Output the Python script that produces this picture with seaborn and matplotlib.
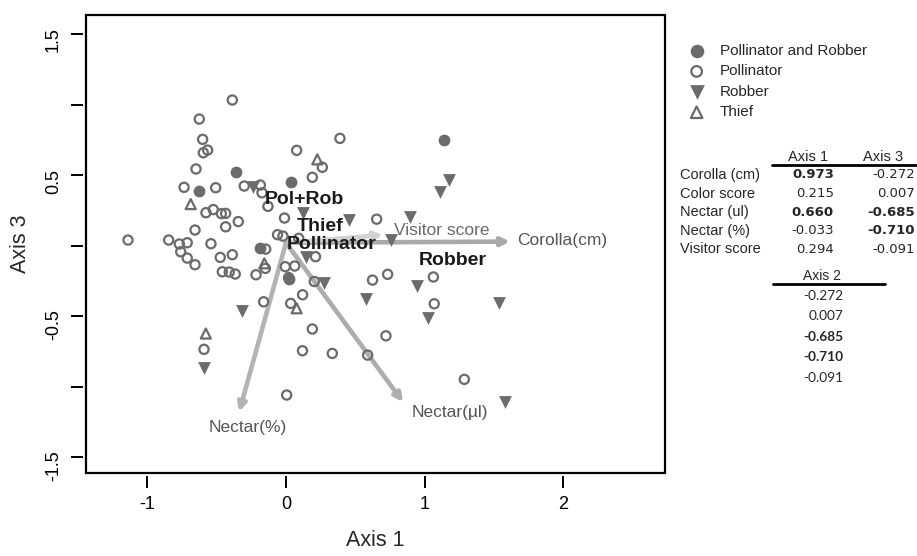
import numpy as np
import pandas as pd
import matplotlib
matplotlib.use("Agg")
import matplotlib.pyplot as plt
from matplotlib.patches import Rectangle
from matplotlib.lines import Line2D
import seaborn as sns

# ---------------- data ----------------
polrob_x = [-0.360, -0.625, 0.034, 1.141, -0.187, 0.020]
polrob_y = [0.523, 0.387, 0.450, 0.748, -0.018, -0.240]

thief_x = [0.226, -0.687, -0.156, 0.077, -0.578]
thief_y = [0.611, 0.294, -0.126, -0.445, -0.624]

robber_x = [-0.240, 0.125, 0.456, 0.894, 1.175, 1.110, 0.759, 0.146, 0.274, 0.948,
            0.580, 1.538, 1.026, -0.319, -0.589, 1.579]
robber_y = [0.413, 0.228, 0.181, 0.204, 0.465, 0.382, 0.041, -0.079, -0.266, -0.286,
            -0.381, -0.410, -0.511, -0.465, -0.871, -1.108]

poll_x = [-0.387, -0.625, -0.601, -0.565, -0.596, 0.077, 0.389, 0.262, 0.190, -0.649,
          -0.735, -0.507, -0.301, -0.185, -0.173, -0.130, -0.577, -0.524, -0.466, -0.435,
          -0.435, -0.344, -0.011, 0.654, -0.656, -1.139, -0.846, -0.769, -0.712, -0.759,
          -0.712, -0.656, -0.541, -0.474, -0.387, -0.459, -0.409, -0.366, -0.216, -0.146,
          -0.149, -0.061, -0.022, 0.092, -0.005, 0.063, 0.019, 0.213, 0.204, 0.624,
          0.733, 1.063, 1.069, 0.120, -0.161, 0.034, 0.190, 0.721, 0.119, 0.334,
          0.589, 1.286, 0.005, -0.591]
poll_y = [1.032, 0.897, 0.753, 0.677, 0.658, 0.675, 0.760, 0.555, 0.484, 0.543,
          0.413, 0.410, 0.422, 0.429, 0.374, 0.278, 0.233, 0.255, 0.226, 0.228,
          0.133, 0.170, 0.195, 0.187, 0.110, 0.039, 0.039, 0.011, 0.020, -0.044,
          -0.089, -0.136, 0.013, -0.084, -0.065, -0.186, -0.188, -0.202, -0.207, -0.025,
          -0.162, 0.077, 0.067, 0.051, -0.150, -0.145, -0.227, -0.079, -0.255, -0.245,
          -0.204, -0.223, -0.413, -0.349, -0.399, -0.410, -0.592, -0.640, -0.746, -0.765,
          -0.777, -0.949, -1.060, -0.736]

arrow_names = ["Corolla(cm)", "Visitor score", "Nectar(\u00b5l)", "Nectar(%)"]
arrow_x = [1.615, 0.699, 0.844, -0.337]
arrow_y = [0.028, 0.074, -1.110, -1.179]
arrow_label_x = [1.99, 1.125, 1.182, -0.274]
arrow_label_y = [0.034, 0.110, -1.182, -1.287]

group_names = ["Pol+Rob", "Thief", "Pollinator", "Robber"]
group_x = [0.135, 0.248, 0.332, 1.200]
group_y = [0.328, 0.133, 0.009, -0.108]

table_rows = ["Corolla (cm)", "Color score", "Nectar (ul)", "Nectar (%)", "Visitor score"]
axis1_vals = ["0.973", "0.215", "0.660", "-0.033", "0.294"]
axis1_bold = [True, False, True, False, False]
axis3_vals = ["-0.272", "0.007", "-0.685", "-0.710", "-0.091"]
axis3_bold = [False, False, True, True, False]
axis2_vals = ["-0.272", "0.007", "-0.685", "-0.710", "-0.091"]
axis2_bold = [False, False, True, True, False]

x_ticks = [-1, 0, 1, 2]
y_ticks = [-1.5, -1.0, -0.5, 0.0, 0.5, 1.0, 1.5]
y_ticklabels = ["-1.5", "", "-0.5", "", "0.5", "", "1.5"]

# ---------------- style ----------------
sns.set_style("white")
plt.rcParams["font.family"] = ["Liberation Sans", "DejaVu Sans"]

W, H = 917, 556
fig = plt.figure(figsize=(W / 100, H / 100), dpi=100)
ax = fig.add_axes([86 / W, (H - 473) / H, (665 - 86) / W, (473 - 15) / H])

gray = "#6b6b6b"

df_pr = pd.DataFrame({"x": polrob_x, "y": polrob_y})
df_po = pd.DataFrame({"x": poll_x, "y": poll_y})
df_ro = pd.DataFrame({"x": robber_x, "y": robber_y})
df_th = pd.DataFrame({"x": thief_x, "y": thief_y})

# arrows first (under points)
ox, oy = 0.0, 0.02
arrow_cols = ["#a9a9a9", "#d2d2d2", "#adadad", "#b3b3b3"]
for ax_, ay_, c in zip(arrow_x, arrow_y, arrow_cols):
    ax.annotate("", xy=(ax_, ay_), xytext=(ox, oy),
                arrowprops=dict(arrowstyle="-|>", lw=3.3, color=c,
                                mutation_scale=12, shrinkA=0, shrinkB=0),
                zorder=1)

sns.scatterplot(data=df_pr, x="x", y="y", marker="o", s=72, color=gray,
                edgecolor=gray, linewidth=0, ax=ax, label="Pollinator and Robber", zorder=3)
sns.scatterplot(data=df_po, x="x", y="y", marker="o", s=44, color=gray,
                facecolor="none", edgecolor=gray, linewidth=1.6, ax=ax,
                label="Pollinator", zorder=3)
sns.scatterplot(data=df_ro, x="x", y="y", marker="v", s=85, color=gray,
                edgecolor=gray, linewidth=0, ax=ax, label="Robber", zorder=3)
sns.scatterplot(data=df_th, x="x", y="y", marker="^", s=52, color=gray,
                facecolor="none", edgecolor=gray, linewidth=1.6, ax=ax,
                label="Thief", zorder=3)

for name, lx, ly, c in zip(arrow_names, arrow_label_x, arrow_label_y,
                           ["#555555", "#6a6a6a", "#555555", "#555555"]):
    ax.text(lx, ly, name, ha="center", va="center", fontsize=12.5, color=c, zorder=4)

for name, gx, gy in zip(group_names, group_x, group_y):
    ax.text(gx, gy, name, ha="center", va="center", fontsize=14,
            fontweight="bold", color="#1a1a1a", zorder=5)

ax.set_xlim(-1.442, 2.733)
ax.set_ylim(-1.613, 1.635)
ax.set_xticks(x_ticks)
ax.set_xticklabels([str(t) for t in x_ticks])
ax.set_yticks(y_ticks)
ax.set_yticklabels(y_ticklabels)
ax.tick_params(axis="both", which="both", direction="out", length=8.6, width=1.4,
               color="black", labelsize=13, labelcolor="black", bottom=True, left=True,
               top=False, right=False)
ax.tick_params(axis="x", pad=6)
ax.tick_params(axis="y", pad=6.5, labelrotation=90)
for lab in ax.get_yticklabels():
    lab.set_verticalalignment("center")
for sp in ax.spines.values():
    sp.set_visible(False)
ax.spines["bottom"].set_position(("outward", 2.2))
ax.spines["left"].set_position(("outward", 2.2))
ax.add_patch(Rectangle((0, 0), 1, 1, transform=ax.transAxes, fill=False,
                       lw=1.6, ec="black", clip_on=False, zorder=10))
ax.set_xlabel("Axis 1", fontsize=15.5)
ax.set_ylabel("Axis 3", fontsize=15.5)
ax.xaxis.set_label_coords(0.5, (473 - 540) / 458)
ax.yaxis.set_label_coords((21 - 86) / 579, 0.5)
ax.xaxis.label.set_va("center")
ax.yaxis.label.set_va("center")
ax.grid(False)

# legend outside
handles, labels = ax.get_legend_handles_labels()
if ax.get_legend():
    ax.get_legend().remove()
fig.legend(handles, labels, loc="upper left", bbox_to_anchor=(689 / W, 1 - 44 / H),
           bbox_transform=fig.transFigure, frameon=False, fontsize=11,
           handlelength=1.0, handletextpad=1.0, labelspacing=0.42,
           borderaxespad=0, borderpad=0, scatterpoints=1, markerscale=1.15)

# ---------------- table ----------------
def ft(x, y, s, **kw):
    fig.text(x / W, 1 - y / H, s, **kw)

ft(808, 157, "Axis 1", ha="center", va="center", fontsize=10.5)
ft(883, 157, "Axis 3", ha="center", va="center", fontsize=10.5)
fig.add_artist(Line2D([772 / W, 917 / W], [1 - 164.5 / H, 1 - 164.5 / H],
                      color="black", lw=2.0, transform=fig.transFigure))
for i, (r, v1, b1, v3, b3) in enumerate(zip(table_rows, axis1_vals, axis1_bold,
                                             axis3_vals, axis3_bold)):
    y = 175 + 18.6 * i
    ft(680, y, r, ha="left", va="center", fontsize=10.5)
    ft(834, y, v1, ha="right", va="center", fontsize=9.5, family="DejaVu Sans",
       fontweight="bold" if b1 else "normal")
    ft(915, y, v3, ha="right", va="center", fontsize=9.5, family="DejaVu Sans",
       fontweight="bold" if b3 else "normal")

ft(822, 276, "Axis 2", ha="center", va="center", fontsize=10)
fig.add_artist(Line2D([773 / W, 885 / W], [1 - 283.5 / H, 1 - 283.5 / H],
                      color="black", lw=2.0, transform=fig.transFigure))
for i, (v, b) in enumerate(zip(axis2_vals, axis2_bold)):
    y = 296 + 20.4 * i
    ft(843, y, v, ha="right", va="center", fontsize=9.8, family="Lato",
       fontweight="bold" if b else "normal")

fig.savefig("out.png", dpi=100)
